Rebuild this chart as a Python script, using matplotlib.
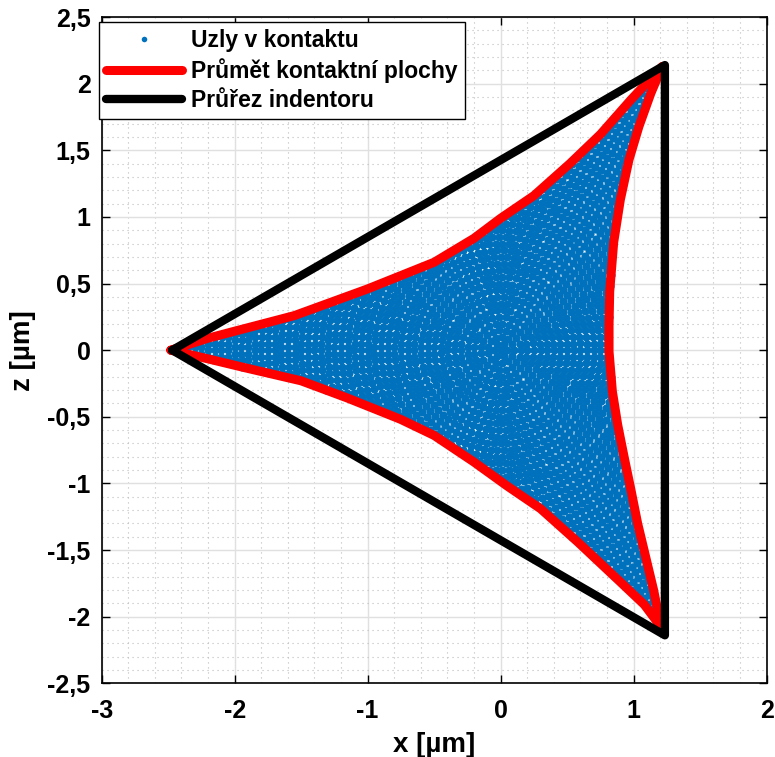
import numpy as np
import matplotlib
matplotlib.use('Agg')
import matplotlib.pyplot as plt
from matplotlib.path import Path

plt.rcParams['font.family'] = ['Liberation Sans', 'DejaVu Sans']
plt.rcParams['font.weight'] = 'bold'

# contact area outline, left tip -> top -> bottom -> left
red_x = [-2.48, -2.20, -2.01, -1.55, -1.00, -0.75, -0.50, -0.20, 0.00, 0.25, 0.52, 0.75, 0.98, 1.215,
         1.13, 1.04, 0.965, 0.90, 0.85, 0.82, 0.815, 0.815, 0.84, 0.88, 0.93, 0.98, 1.03, 1.09, 1.15, 1.20, 1.23,
         1.08, 0.90, 0.58, 0.30, 0.05, -0.20, -0.50, -0.75, -1.15, -1.50, -1.93, -2.18, -2.48]
red_y = [0.00, 0.09, 0.14, 0.26, 0.46, 0.56, 0.66, 0.84, 0.99, 1.16, 1.40, 1.62, 1.88, 2.13,
         1.93, 1.68, 1.43, 1.13, 0.81, 0.44, 0.19, -0.01, -0.31, -0.56, -0.81, -1.05, -1.30, -1.55, -1.80, -2.05, -2.11,
         -1.91, -1.74, -1.44, -1.19, -1.02, -0.84, -0.64, -0.52, -0.36, -0.23, -0.13, -0.07, 0.00]

# indenter cross-section
tri_x = [-2.47, 1.235, 1.235, -2.47]
tri_y = [0.0, 2.14, -2.14, 0.0]

# circular FE mesh of the contact nodes
mesh_step = 0.05
mesh_rmax = 2.5

xticks = [-3, -2, -1, 0, 1, 2]
yticks = [-2.5, -2, -1.5, -1, -0.5, 0, 0.5, 1, 1.5, 2, 2.5]
ylabels = ['-2,5', '-2', '-1,5', '-1', '-0,5', '0', '0,5', '1', '1,5', '2', '2,5']

nx, ny = [0.0], [0.0]
for r in np.arange(mesh_step, mesh_rmax, mesh_step):
    n = int(round(2 * np.pi * r / mesh_step))
    a = np.linspace(0, 2 * np.pi, n, endpoint=False)
    nx.extend(r * np.cos(a))
    ny.extend(r * np.sin(a))
nodes = np.column_stack([nx, ny])
inside = Path(np.column_stack([red_x, red_y])).contains_points(nodes)
nodes = nodes[inside]

fig = plt.figure(figsize=(7.75, 7.57), dpi=100)
ax = fig.add_axes([0.1312, 0.0974, 0.858, 0.880])

ax.plot(nodes[:, 0], nodes[:, 1], 'o', color='#0072BD', ms=5.9, mew=0, label='Uzly v kontaktu')
ax.plot(red_x, red_y, color='#FF0000', lw=6.5, solid_joinstyle='round', solid_capstyle='round',
        label='Průmět kontaktní plochy')
ax.plot(tri_x, tri_y, color='black', lw=6, solid_joinstyle='round', solid_capstyle='round',
        label='Průřez indentoru')

ax.set_xlim(-3, 2)
ax.set_ylim(-2.5, 2.5)
ax.set_xticks(xticks)
ax.set_xticklabels([str(t) for t in xticks])
ax.set_yticks(yticks)
ax.set_yticklabels(ylabels)
ax.set_xticks(np.arange(-3, 2.01, 0.2), minor=True)
ax.set_yticks(np.arange(-2.5, 2.51, 0.1), minor=True)
ax.tick_params(which='major', direction='in', length=6, width=1, top=True, right=True,
               labelsize=18, pad=8)
ax.tick_params(which='minor', length=0)
ax.tick_params(axis='x', pad=11)
ax.grid(which='major', color='#e0e0e0', lw=1)
ax.grid(which='minor', color='#bdbdbd', lw=0.8, ls=(0, (1, 3.5)))
ax.set_axisbelow(True)
for s in ax.spines.values():
    s.set_linewidth(1.2)

ax.set_xlabel('x [µm]', fontsize=20, fontweight='bold', labelpad=7)
ax.set_ylabel('z [µm]', fontsize=20, fontweight='bold', labelpad=8)

leg = ax.legend(loc='upper left', bbox_to_anchor=(-0.004, 0.993), borderaxespad=0,
                fontsize=16.5, handlelength=3.3, handletextpad=0.42, labelspacing=0.28,
                fancybox=False, framealpha=1, edgecolor='black', borderpad=0.3)
leg.get_frame().set_linewidth(1)
leg.legend_handles[0].set_markersize(4)

fig.savefig('out.png', dpi=100)
